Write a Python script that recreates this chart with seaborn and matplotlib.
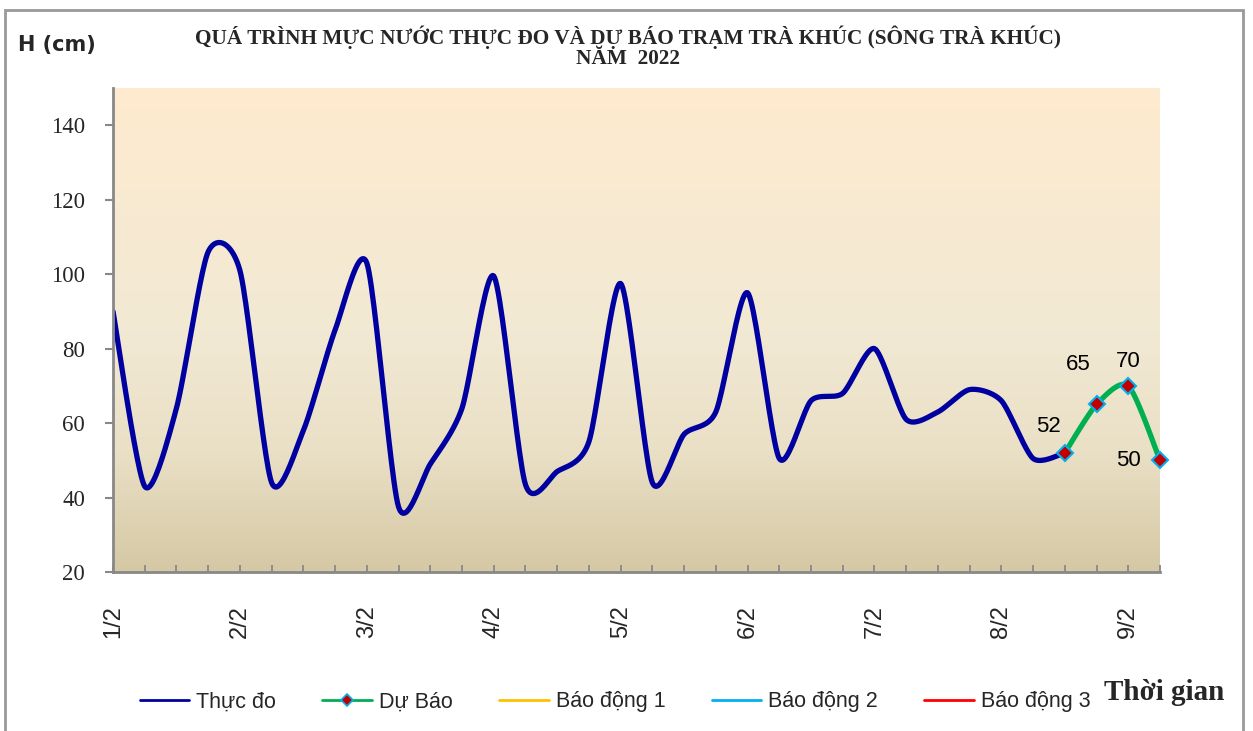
import numpy as np
import pandas as pd
import seaborn as sns
import matplotlib
matplotlib.use("Agg")
import matplotlib.pyplot as plt
from matplotlib.colors import LinearSegmentedColormap
from matplotlib.lines import Line2D
from matplotlib.patches import Rectangle

# ---------------- data ----------------
# 6-hourly observations starting 1/2 00h
observed = [90, 43, 64, 106, 101, 44, 58, 85, 103, 37.5, 49, 64, 99.5, 43.5,
            47, 55, 97.5, 44, 57, 63, 95, 50.5, 66, 68, 80, 61, 63, 69, 66, 50.5, 52]
forecast = [52, 65, 70, 50]
forecast_start = 30
day_labels = ["1/2", "2/2", "3/2", "4/2", "5/2", "6/2", "7/2", "8/2", "9/2"]
y_ticks = [20, 40, 60, 80, 100, 120, 140]
legend_labels = ["Thực đo", "Dự Báo", "Báo động 1", "Báo động 2", "Báo động 3"]
title_lines = ["QUÁ TRÌNH MỰC NƯỚC THỰC ĐO VÀ DỰ BÁO TRẠM TRÀ KHÚC (SÔNG TRÀ KHÚC)",
               "NĂM  2022"]

C_OBS = "#0000A0"
C_FC = "#00B050"
C_B1 = "#FFC000"
C_B2 = "#00B0F0"
C_B3 = "#FF0000"


def smooth(x, y, n=24, k=8.0):
    """Excel-like smoothed line (Bezier through the data points)."""
    pts = np.column_stack([x, y]).astype(float)
    P = np.vstack([pts[0], pts, pts[-1]])
    out = []
    for i in range(len(pts) - 1):
        p0, p1, p2, p3 = P[i], P[i + 1], P[i + 2], P[i + 3]
        c1 = p1 + (p2 - p0) / k
        c2 = p2 - (p3 - p1) / k
        t = np.linspace(0, 1, n, endpoint=(i == len(pts) - 2))[:, None]
        seg = (1 - t) ** 3 * p1 + 3 * (1 - t) ** 2 * t * c1 + 3 * (1 - t) * t ** 2 * c2 + t ** 3 * p2
        out.append(seg)
    return np.vstack(out)


sns.set_style("white")
plt.rcParams["font.family"] = ["Liberation Sans", "DejaVu Sans"]

fig = plt.figure(figsize=(12.53, 7.31), dpi=100)
ax = fig.add_axes([113 / 1253, 1 - 572 / 731, (1160 - 113) / 1253, (572 - 88) / 731])

x_obs = np.arange(len(observed))
x_fc = np.arange(forecast_start, forecast_start + len(forecast))
x_max = forecast_start + len(forecast) - 1

# gradient background
cmap = LinearSegmentedColormap.from_list(
    "bg", [(0.0, "#FEEBCF"), (0.5, "#F2E9D4"), (0.75, "#EAE0C6"), (1.0, "#D5C8A4")])
grad = np.linspace(0, 1, 256)[:, None]
ax.imshow(grad, cmap=cmap, extent=[0, x_max, 20, 150], aspect="auto", zorder=0,
          origin="upper")

obs_s = smooth(x_obs, observed)
fc_s = smooth(x_fc, forecast)
df_obs = pd.DataFrame({"x": obs_s[:, 0], "y": obs_s[:, 1]})
df_fc = pd.DataFrame({"x": fc_s[:, 0], "y": fc_s[:, 1]})
sns.lineplot(data=df_obs, x="x", y="y", ax=ax, color=C_OBS, lw=3.8, sort=False,
             estimator=None, zorder=3, solid_capstyle="round")
sns.lineplot(data=df_fc, x="x", y="y", ax=ax, color=C_FC, lw=3.8, sort=False,
             estimator=None, zorder=4, solid_capstyle="round")
ax.plot(x_fc, forecast, ls="none", marker="D", ms=8.5, mfc="#C00000", mec=C_B2,
        mew=1.5, zorder=5, clip_on=False)

# data labels
offsets = [(-16, 26), (-18, 40), (0, 24), (-32, 0)]
for xv, yv, off in zip(x_fc, forecast, offsets):
    ax.annotate(f"{yv:g}", (xv, yv), xytext=off, textcoords="offset pixels",
                ha="center", va="center", fontsize=16, color="black", zorder=6,
                annotation_clip=False)

ax.set_xlim(0, x_max)
ax.set_ylim(20, 150)
ax.set_xlabel("")
ax.set_ylabel("")

ax.set_yticks(y_ticks)
ax.set_yticklabels([str(v) for v in y_ticks], family="Liberation Serif", fontsize=16.5)
ax.tick_params(axis="y", direction="out", length=6, width=1.5, color="#888888", pad=14,
               left=True)

ax.set_xticks(np.arange(0, x_max + 1, 4))
ax.set_xticklabels(day_labels, rotation=90, fontsize=17, va="top")
ax.set_xticks(np.arange(0, x_max + 1, 1), minor=True)
ax.tick_params(axis="x", which="both", direction="in", length=5, width=1.3,
               color="#888888", pad=24, bottom=True)

for s in ["top", "right"]:
    ax.spines[s].set_visible(False)
for s in ["left", "bottom"]:
    ax.spines[s].set_color("#888888")
    ax.spines[s].set_linewidth(2)
    ax.spines[s].set_zorder(7)
ax.grid(False)

# texts
fig.text(18 / 1253, 1 - 45 / 731, "H (cm)", fontsize=15, fontweight="bold",
         family="DejaVu Sans", ha="left", va="center")
for line, ypix in zip(title_lines, [37, 59]):
    fig.text(628 / 1253, 1 - ypix / 731, line, fontsize=15.3, fontweight="bold",
             family="Liberation Serif", ha="center", va="center")
fig.text(1104 / 1253, 1 - 692 / 731, "Thời gian", fontsize=21, fontweight="bold",
         family="Liberation Serif", ha="left", va="center")

# legend
handles = [
    Line2D([], [], color=C_OBS, lw=2),
    Line2D([], [], color=C_FC, lw=2, marker="D", ms=6, mfc="#C00000", mec=C_B2, mew=1.2),
    Line2D([], [], color=C_B1, lw=2),
    Line2D([], [], color=C_B2, lw=2),
    Line2D([], [], color=C_B3, lw=2),
]
fig.legend(handles, legend_labels, loc="center", bbox_to_anchor=(615 / 1253, 1 - 702 / 731),
           ncol=5, frameon=False, fontsize=15.5, handlelength=2.3, handletextpad=0.33,
           columnspacing=2.15)

# outer frame
fig.patches.append(Rectangle((5 / 1253, -0.05), (1243 - 5) / 1253, 1.05 - 10 / 731,
                             transform=fig.transFigure, fill=False, ec="#999999", lw=2))

fig.savefig("out.png", dpi=100)
